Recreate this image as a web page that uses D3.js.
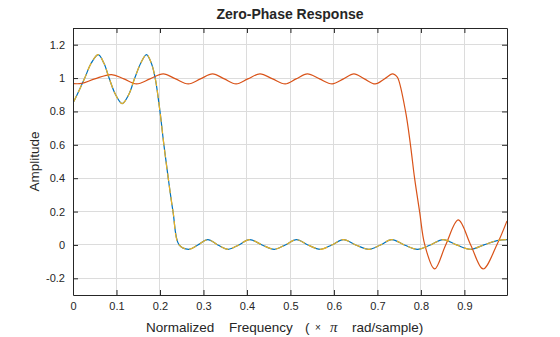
<!DOCTYPE html>
<html><head><meta charset="utf-8">
<script src="https://cdn.jsdelivr.net/npm/d3@7"></script>
<style>body{margin:0;background:#fff}svg{display:block}text{font-family:Arial,"Liberation Sans",Helvetica,sans-serif;fill:#262626}</style>
</head><body><div id="chart"></div>
<script>
// Low-pass filter response (blue solid, yellow dashed overlay - identical values)
const lowFreq = [0,0.013,0.027,0.042,0.058,0.071,0.083,0.098,0.113,0.128,0.142,0.156,0.169,0.180,0.189,0.2,0.209,0.219,0.23,0.244,0.266,0.287,0.31,0.333,0.357,0.381,0.406,0.435,0.463,0.488,0.514,0.54,0.569,0.595,0.622,0.65,0.681,0.707,0.733,0.762,0.792,0.822,0.851,0.882,0.914,0.945,0.975,0.998];
const lowAmp  = [0.85,0.92,1.0,1.09,1.141,1.09,1.0,0.9,0.847,0.9,1.0,1.09,1.141,1.09,1.0,0.8,0.6,0.4,0.2,0.0,-0.026,0.0,0.032,0.0,-0.026,0.0,0.032,0.0,-0.026,0.0,0.032,0.0,-0.026,0.0,0.032,0.0,-0.026,0.0,0.032,0.0,-0.026,0.0,0.032,0.0,-0.026,0.0,0.026,0.032];
// Second filter response (orange)
const hiFreq = [0,0.02,0.05,0.0885,0.117,0.146,0.177,0.2075,0.236,0.265,0.293,0.321,0.348,0.375,0.402,0.430,0.459,0.488,0.513,0.539,0.567,0.596,0.622,0.646,0.670,0.695,0.716,0.734,0.741,0.747,0.7647,0.776,0.7855,0.797,0.809,0.8315,0.857,0.886,0.9145,0.943,0.9745,0.998];
const hiAmp  = [0.967,0.968,0.995,1.021,0.995,0.965,0.995,1.025,0.995,0.965,0.995,1.025,0.995,0.965,0.995,1.025,0.995,0.965,0.995,1.025,0.995,0.965,0.995,1.025,0.995,0.965,0.995,1.025,1.018,1.0,0.8,0.6,0.4,0.2,0.0,-0.144,0.0,0.150,0.0,-0.144,0.0,0.144];
const xTicks = [0,0.1,0.2,0.3,0.4,0.5,0.6,0.7,0.8,0.9];
const yTicks = [-0.2,0,0.2,0.4,0.6,0.8,1,1.2];
const titleText = "Zero-Phase Response";
const yLabel = "Amplitude";

const W = 560, H = 337;
const m = {l:73, r:53, t:28, b:42};
const svg = d3.select("#chart").append("svg").attr("width",W).attr("height",H);
const x = d3.scaleLinear().domain([0,0.998]).range([m.l, W-m.r]);
const y = d3.scaleLinear().domain([-0.3,1.3]).range([H-m.b, m.t]);
const iw = W-m.l-m.r, ih = H-m.t-m.b;

// grid
const g = svg.append("g");
g.selectAll(".gx").data(xTicks.slice(1)).join("line")
  .attr("x1",d=>x(d)).attr("x2",d=>x(d)).attr("y1",m.t).attr("y2",H-m.b)
  .attr("stroke","#dcdcdc").attr("stroke-width",1).attr("shape-rendering","crispEdges");
g.selectAll(".gy").data(yTicks).join("line")
  .attr("y1",d=>y(d)).attr("y2",d=>y(d)).attr("x1",m.l).attr("x2",W-m.r)
  .attr("stroke","#dcdcdc").attr("stroke-width",1).attr("shape-rendering","crispEdges");

// lines
svg.append("clipPath").attr("id","c").append("rect").attr("x",m.l).attr("y",m.t).attr("width",iw).attr("height",ih);
const line = d3.line().x(d=>x(d[0])).y(d=>y(d[1])).curve(d3.curveCatmullRom.alpha(0.5));
const lowData = lowFreq.map((f,i)=>[f,lowAmp[i]]);
const hiData = hiFreq.map((f,i)=>[f,hiAmp[i]]);
const pg = svg.append("g").attr("clip-path","url(#c)");
pg.append("path").datum(lowData).attr("d",line).attr("fill","none").attr("stroke","#0072BD").attr("stroke-width",1.2);
pg.append("path").datum(hiData).attr("d",line).attr("fill","none").attr("stroke","#D95319").attr("stroke-width",1.2);
pg.append("path").datum(lowData).attr("d",line).attr("fill","none").attr("stroke","#EDB120").attr("stroke-width",1.2).attr("stroke-dasharray","8,4");

// axes
const ax = svg.append("g").attr("transform",`translate(0,${H-m.b})`)
  .call(d3.axisBottom(x).tickValues(xTicks).tickFormat(d3.format("")).tickSizeInner(-5).tickSizeOuter(0).tickPadding(7));
const axT = svg.append("g").attr("transform",`translate(0,${m.t})`)
  .call(d3.axisTop(x).tickValues(xTicks).tickFormat("").tickSizeInner(-5).tickSizeOuter(0));
const ay = svg.append("g").attr("transform",`translate(${m.l},0)`)
  .call(d3.axisLeft(y).tickValues(yTicks).tickFormat(d3.format("")).tickSizeInner(-5).tickSizeOuter(0).tickPadding(8));
const ayR = svg.append("g").attr("transform",`translate(${W-m.r},0)`)
  .call(d3.axisRight(y).tickValues(yTicks).tickFormat("").tickSizeInner(-5).tickSizeOuter(0));
[ax,axT,ay,ayR].forEach(a=>{
  a.selectAll("path,line").attr("stroke","#262626");
  a.selectAll("text").attr("font-size","11px").attr("fill","#262626").style("font-family","Arial, 'Liberation Sans', sans-serif");
});
ay.selectAll("text").text(d=>d3.format("")(d).replace("−","-"));

// title & labels
svg.append("text").attr("x",m.l+iw/2).attr("y",19).attr("text-anchor","middle")
  .attr("font-size","14px").attr("font-weight","bold").attr("fill","#000").text(titleText);
svg.append("text").attr("transform",`translate(39,${m.t+ih/2}) rotate(-90)`).attr("text-anchor","middle")
  .attr("font-size","13.5px").text(yLabel);
const xl = svg.append("text").attr("y",332).attr("font-size","13.5px");
xl.append("tspan").attr("x",146).text("Normalized");
xl.append("tspan").attr("x",229).text("Frequency");
xl.append("tspan").attr("x",305).text("(");
xl.append("tspan").attr("x",315).attr("font-size","10px").attr("dy","-1").text("×");
xl.append("tspan").attr("x",330).attr("dy","1").attr("font-style","italic").attr("font-family","'Times New Roman','Liberation Serif',serif").attr("font-size","15px").text("π");
xl.append("tspan").attr("x",352).text("rad/sample)");
</script></body></html>
